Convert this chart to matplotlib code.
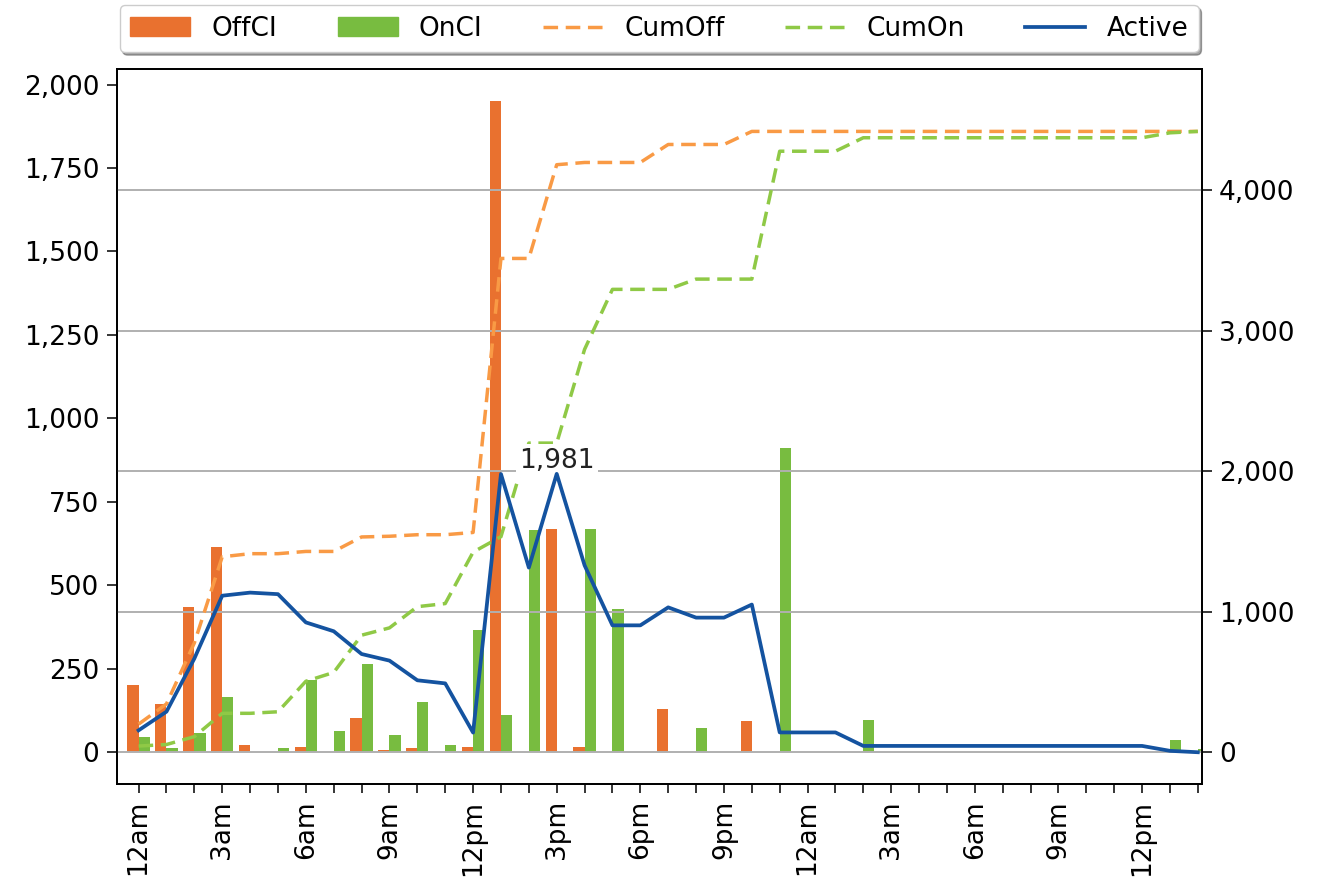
import matplotlib
matplotlib.use("Agg")
import matplotlib.pyplot as plt
from matplotlib.ticker import FuncFormatter
from matplotlib.patches import Patch
from matplotlib.lines import Line2D

# ---- data (hourly, 0 = 12am day 1 ... 38 = 2pm day 2) ----
hours = list(range(39))
tick_labels = ["12am", "", "", "3am", "", "", "6am", "", "", "9am", "", "",
               "12pm", "", "", "3pm", "", "", "6pm", "", "", "9pm", "", "",
               "12am", "", "", "3am", "", "", "6am", "", "", "9am", "", "",
               "12pm", "", ""]

off_ci = [200, 144, 434, 613, 22, 0, 16, 0, 103, 5, 11, 0, 16, 1950, 0, 667,
          16, 0, 0, 128, 0, 0, 93, 0, 0, 0, 0,
          0, 0, 0, 0, 0, 0, 0, 0, 0, 0, 0, 0]
on_ci = [44, 11, 56, 166, 0, 11, 217, 63, 265, 52, 151, 22, 366, 110, 666, 0,
         667, 427, 0, 0, 73, 0, 0, 910, 0, 0, 96,
         0, 0, 0, 0, 0, 0, 0, 0, 0, 0, 35, 10]
cum_off = [200, 344, 778, 1391, 1413, 1413, 1429, 1429, 1532, 1537, 1548, 1548,
           1564, 3514, 3514, 4181, 4197, 4197, 4197, 4325, 4325, 4325, 4418,
           4418, 4418, 4418, 4418, 4418, 4418, 4418, 4418, 4418, 4418, 4418,
           4418, 4418, 4418, 4418, 4418]
cum_on = [44, 55, 111, 277, 277, 288, 505, 568, 833, 885, 1036, 1058, 1424,
          1534, 2200, 2200, 2867, 3294, 3294, 3294, 3367, 3367, 3367, 4277,
          4277, 4277, 4373, 4373, 4373, 4373, 4373, 4373, 4373, 4373, 4373,
          4373, 4373, 4408, 4418]
active = [156, 289, 667, 1114, 1136, 1125, 924, 861, 699, 652, 512, 490, 140,
          1980, 1314, 1981, 1330, 903, 903, 1031, 958, 958, 1051, 141, 141,
          141, 45, 45, 45, 45, 45, 45, 45, 45, 45, 45, 45, 10, 0]
peak_label = "1,981"

# ---- style ----
C_OFF = "#E9712F"
C_ON = "#78BC40"
C_CUMOFF = "#F99A45"
C_CUMON = "#8FC946"
C_ACTIVE = "#1453A0"
FS = 19

plt.rcParams["font.family"] = ["DejaVu Sans"]
plt.rcParams["font.size"] = FS

W, H = 1325, 890
fig = plt.figure(figsize=(W / 100, H / 100), dpi=100)
L, R, T, B = 116.7, 1201.7, 69.3, 784.0
ax = fig.add_axes([L / W, 1 - B / H, (R - L) / W, (B - T) / H])
ax2 = ax.twinx()

bw = 0.4
ax.bar([h - bw / 2 for h in hours], off_ci, width=bw, color=C_OFF, label="OffCI")
ax.bar([h + bw / 2 for h in hours], on_ci, width=bw, color=C_ON, label="OnCI")

lw = 2.5
dash = (0, (4.2, 2.2))
ax2.plot(hours, cum_off, color=C_CUMOFF, lw=lw, linestyle=dash, label="CumOff", zorder=2)
ax2.plot(hours, cum_on, color=C_CUMON, lw=lw, linestyle=dash, label="CumOn", zorder=2)
ax2.plot(hours, active, color=C_ACTIVE, lw=2.7, label="Active", zorder=4)

pk = active.index(max(active))
ax2.annotate(peak_label, (hours[pk], active[pk]), xytext=(0, 4.5),
             textcoords="offset points", ha="center", va="baseline",
             fontsize=FS, color="#222222", zorder=3,
             bbox=dict(boxstyle="square,pad=0.12", fc="white", ec="none"))

ax.set_xlim(-0.786, 38.14)
ax.set_ylim(-96, 2046)
ax2.set_ylim(-226, 4860)

ax.set_yticks([0, 250, 500, 750, 1000, 1250, 1500, 1750, 2000])
ax2.set_yticks([0, 1000, 2000, 3000, 4000])
fmt = FuncFormatter(lambda v, p: f"{int(v):,}")
ax.yaxis.set_major_formatter(fmt)
ax2.yaxis.set_major_formatter(fmt)
ax.set_xticks(hours)
ax.set_xticklabels(tick_labels, rotation=90)

ax2.grid(axis="y", color="#b0b0b0", lw=1.4)
ax.grid(False)

for a in (ax, ax2):
    for s in a.spines.values():
        s.set_linewidth(1.3)
    a.tick_params(axis="y", length=7.5, width=1.1, labelsize=FS, pad=5)
ax.tick_params(axis="x", length=6.5, width=1.1, labelsize=FS, pad=5)

handles = [Patch(color=C_OFF), Patch(color=C_ON),
           Line2D([], [], color=C_CUMOFF, lw=lw, linestyle=dash),
           Line2D([], [], color=C_CUMON, lw=lw, linestyle=dash),
           Line2D([], [], color=C_ACTIVE, lw=2.7)]
labels = ["OffCI", "OnCI", "CumOff", "CumOn", "Active"]
leg = ax2.legend(handles, labels, loc="lower center", ncol=5,
                 bbox_to_anchor=(0.5, 1 + 17 / (B - T)), borderaxespad=0,
                 shadow=True, fancybox=True, fontsize=FS, handlelength=2.27,
                 columnspacing=2.3, frameon=True)
leg.set_zorder(20)

fig.savefig("out.png", dpi=100)
